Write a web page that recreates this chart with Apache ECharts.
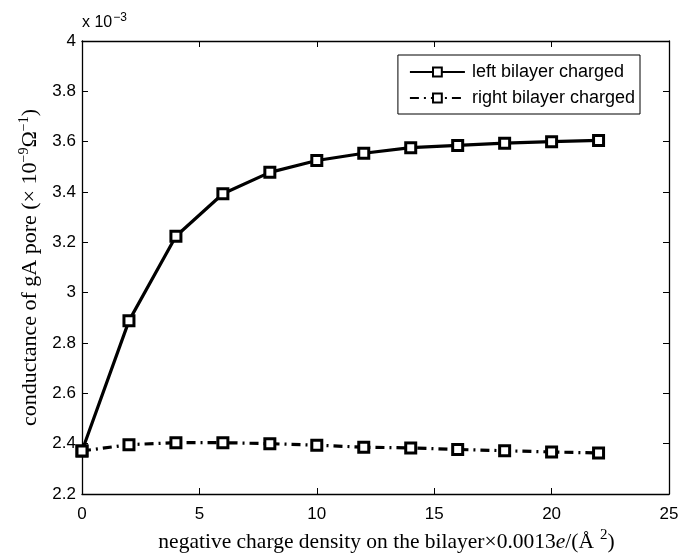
<!DOCTYPE html>
<html>
<head>
<meta charset="utf-8">
<script src="https://cdn.jsdelivr.net/npm/echarts@6/dist/echarts.min.js"></script>
<style>html,body{margin:0;padding:0;background:#fff}#c{width:681px;height:554px}</style>
</head>
<body>
<div id="c"></div>
<script>
// values in units of 1e-3 (axis shows "x 10^-3")
const chargeDensity = [0, 2, 4, 6, 8, 10, 12, 14, 16, 18, 20, 22];
const leftCharged  = [2.371, 2.888, 3.224, 3.393, 3.478, 3.525, 3.554, 3.576, 3.585, 3.594, 3.600, 3.605];
const rightCharged = [2.371, 2.396, 2.404, 2.404, 2.400, 2.394, 2.386, 2.383, 2.377, 2.372, 2.367, 2.363];
const seriesNames = ['left bilayer charged', 'right bilayer charged'];
const xTicks = [0, 5, 10, 15, 20, 25];
const yTicks = [2.2, 2.4, 2.6, 2.8, 3, 3.2, 3.4, 3.6, 3.8, 4];

const chart = echarts.init(document.getElementById('c'), null, {renderer: 'canvas'});
const sans = 'Liberation Sans, Arial, Helvetica, sans-serif';
const serif = 'Liberation Serif, Times New Roman, serif';

const pair = a => chargeDensity.map((x, i) => [x, a[i]]);
const markerStyle = {color: '#fff', borderColor: '#000', borderWidth: 3};

const axisCommon = {
  axisLine: {show: true, onZero: false, lineStyle: {color: '#000', width: 1.3}},
  axisTick: {show: true, inside: true, length: 6, lineStyle: {color: '#000', width: 1}},
  splitLine: {show: false}
};

chart.setOption({
  animation: false,
  backgroundColor: '#fff',
  grid: {left: 82, right: 12, top: 41, bottom: 60, containLabel: false, outerBoundsMode: 'none'},
  xAxis: [
    Object.assign({
      type: 'value', min: xTicks[0], max: xTicks[xTicks.length - 1], interval: 5,
      axisLabel: {color: '#000', fontFamily: sans, fontSize: 17, margin: 12},
      name: '{t|negative charge density on the bilayer×0.0013}{i|e}{t|/(Å}{s|2}{t|)}',
      nameLocation: 'middle', nameGap: 33,
      nameTextStyle: {
        padding: [0, 0, 0, 22],
        rich: {
          t: {fontFamily: serif, fontSize: 21.5, color: '#000'},
          i: {fontFamily: serif, fontSize: 21.5, fontStyle: 'italic', color: '#000'},
          s: {fontFamily: serif, fontSize: 15, color: '#000', verticalAlign: 'top', padding: [0, 0, 14, 6]}
        }
      }
    }, axisCommon),
    Object.assign({
      type: 'value', position: 'top', min: 0, max: 25, interval: 5,
      axisLabel: {show: false}
    }, axisCommon)
  ],
  yAxis: [
    Object.assign({
      type: 'value', min: 2.2, max: 4, interval: 0.2,
      axisLabel: {color: '#000', fontFamily: sans, fontSize: 17, margin: 6,
        formatter: v => String(+v.toFixed(1))},
      name: '{t|conductance of gA pore (× 10}{s|−9}{t|Ω}{s|−1}{t|)}',
      nameLocation: 'middle', nameGap: 36, nameRotate: 90,
      nameTextStyle: {
        rich: {
          t: {fontFamily: serif, fontSize: 22, color: '#000'},
          s: {fontFamily: serif, fontSize: 14, color: '#000', verticalAlign: 'top', padding: [0, 0, 12, 0]}
        }
      }
    }, axisCommon),
    Object.assign({
      type: 'value', position: 'right', min: 2.2, max: 4, interval: 0.2,
      axisLabel: {show: false}
    }, axisCommon)
  ],
  legend: {
    right: 41, top: 55, orient: 'vertical',
    backgroundColor: '#fff', borderColor: '#000', borderWidth: 1,
    padding: [8, 5, 7, 11], itemGap: 8, itemWidth: 55, itemHeight: 11,
    textStyle: {fontFamily: sans, fontSize: 18, color: '#000', padding: [0, 0, 0, 2]},
    data: seriesNames
  },
  series: [
    {
      name: seriesNames[0], type: 'line', data: pair(leftCharged),
      symbol: 'rect', symbolSize: 10, itemStyle: markerStyle,
      lineStyle: {color: '#000', width: 3.2}, color: '#000', z: 3
    },
    {
      name: seriesNames[1], type: 'line', data: pair(rightCharged),
      symbol: 'rect', symbolSize: 10, itemStyle: markerStyle,
      lineStyle: {color: '#000', width: 3.2, type: [9, 5, 2, 5]}, color: '#000', z: 2
    }
  ],
  graphic: [{
    type: 'text', left: 82, top: 12,
    style: {
      text: '{t|x 10}{s|−3}',
      rich: {
        t: {fontFamily: sans, fontSize: 16, fill: '#000'},
        s: {fontFamily: sans, fontSize: 12, fill: '#000', verticalAlign: 'top', padding: [0, 0, 9, 1]}
      }
    }
  }]
});
</script>
</body>
</html>
